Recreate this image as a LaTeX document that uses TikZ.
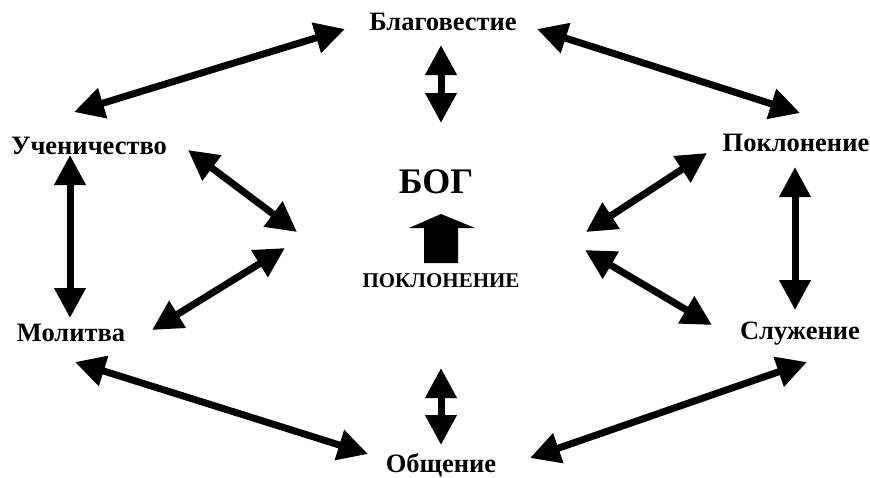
\documentclass[tikz,border=0pt]{standalone}
\usepackage{fontspec}
\setmainfont{Liberation Serif}
\usepackage{tikz}
\usetikzlibrary{arrows.meta}

\tikzset{
  word/.style={font=\fontsize{26.5}{30}\selectfont\bfseries, inner sep=0pt},
  link/.style={black, line width=7pt, {Triangle[length=30pt,width=30pt]}-{Triangle[length=30pt,width=30pt]}}
}

\begin{document}
\begin{tikzpicture}[x=1pt,y=-1pt]
\useasboundingbox (0,0) rectangle (870,477);

% names round the circle
\node[word] (blag) at (443,22) {Благовестие};
\node[word] (uchen) at (89,146) {Ученичество};
\node[word] (pokl) at (796,143) {Поклонение};
\node[word] (molit) at (71,333) {Молитва};
\node[word] (sluzh) at (800,334) {Служение};
\node[word] (obshch) at (441,465) {Общение};

% centre
\node[word,font=\fontsize{36}{42}\selectfont\bfseries] (bog) at (436,182) {БОГ};
\node[word,font=\fontsize{21}{24}\selectfont\bfseries] (poklcap) at (441,281) {ПОКЛОНЕНИЕ};
\fill[black] (424,263) -- (424,228) -- (409,228) -- (441,214) -- (475,228)
   -- (458,228) -- (458,263) -- cycle;

% arrow ends
\coordinate (b1) at (345,29);  \coordinate (u1) at (74,112);
\coordinate (b2) at (537,29);  \coordinate (p1) at (800,113);
\coordinate (b3) at (441,45);  \coordinate (b4) at (441,123);
\coordinate (u2) at (70,155);  \coordinate (m1) at (70,318);
\coordinate (p2) at (795,167); \coordinate (s1) at (795,310);
\coordinate (u3) at (188,150); \coordinate (cl1) at (297,232);
\coordinate (m2) at (152,330); \coordinate (cl2) at (285,248);
\coordinate (p3) at (707,153); \coordinate (cr1) at (586,232);
\coordinate (s2) at (712,325); \coordinate (cr2) at (585,250);
\coordinate (m3) at (75,362);  \coordinate (o1) at (368,454);
\coordinate (s3) at (807,362); \coordinate (o2) at (530,458);
\coordinate (o3) at (441,368); \coordinate (o4) at (441,445);

\begin{scope}
    \draw[link] (b1) -- (u1);
    \draw[link] (b2) -- (p1);
    \draw[link] (b3) -- (b4);
    \draw[link] (u2) -- (m1);
    \draw[link] (p2) -- (s1);
    \draw[link] (u3) -- (cl1);
    \draw[link] (m2) -- (cl2);
    \draw[link] (p3) -- (cr1);
    \draw[link] (s2) -- (cr2);
    \draw[link] (m3) -- (o1);
    \draw[link] (s3) -- (o2);
    \draw[link] (o3) -- (o4);
\end{scope}

\end{tikzpicture}
\end{document}
